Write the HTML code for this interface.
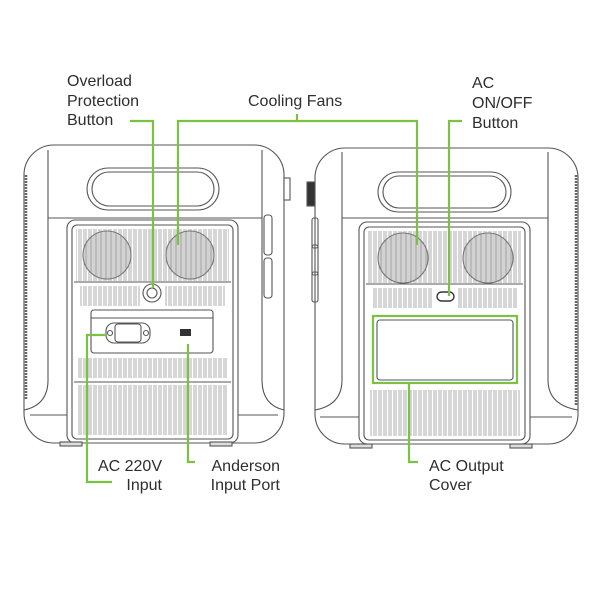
<!DOCTYPE html>
<html><head><meta charset="utf-8"><style>
html,body{margin:0;padding:0;background:#fff;}
svg{display:block;}
text{font-family:"Liberation Sans","DejaVu Sans",sans-serif;font-size:16px;fill:#2e2e2e;}
</style></head><body>
<svg width="600" height="600" viewBox="0 0 600 600" xmlns="http://www.w3.org/2000/svg">
<defs>
<pattern id="vent" width="5" height="200" patternUnits="userSpaceOnUse">
<rect x="1" y="-2" width="3" height="204" rx="1.5" fill="none" stroke="#777" stroke-width="0.6"/>
</pattern>
<pattern id="fan" width="5" height="100" patternUnits="userSpaceOnUse">
<rect width="5" height="100" fill="#d2d2d2"/><line x1="1" y1="0" x2="1" y2="100" stroke="#999" stroke-width="0.8"/>
</pattern>
</defs>
<g fill="none" stroke="#555" stroke-width="1.1">
<!-- LEFT UNIT -->
<rect x="24" y="145" width="260" height="298" rx="30" fill="#fff"/>
<line x1="26" y1="175" x2="26" y2="400" stroke="#666" stroke-width="2.5" stroke-dasharray="2 1"/>
<path d="M48 150 V380 Q48 405 24 410"/>
<path d="M262 150 V380 Q262 405 284 410"/>
<line x1="48" y1="218" x2="262" y2="218"/>
<line x1="30" y1="415" x2="278" y2="415"/>
<rect x="87" y="168" width="132" height="42" rx="21"/>
<rect x="92" y="172" width="122" height="34" rx="17"/>
<rect x="284" y="178" width="6" height="22" fill="#fff"/>
<rect x="264" y="215" width="8" height="40" rx="3"/>
<rect x="264" y="258" width="8" height="40" rx="3"/>
<rect x="67" y="220" width="171" height="223" rx="8" fill="#fff"/>
<rect x="72" y="225" width="161" height="214" rx="5"/>
<rect x="76" y="229" width="153" height="52" fill="url(#vent)" stroke="none"/>
<line x1="74" y1="282" x2="231" y2="282"/>
<circle cx="107" cy="255" r="24" fill="url(#fan)" stroke="#777"/>
<circle cx="190" cy="255" r="24" fill="url(#fan)" stroke="#777"/>
<rect x="80" y="286" width="60" height="20" fill="url(#vent)" stroke="none"/>
<rect x="165" y="286" width="60" height="20" fill="url(#vent)" stroke="none"/>
<circle cx="152" cy="293" r="9" fill="#fff"/>
<circle cx="152" cy="293" r="5"/>
<rect x="91" y="310" width="122" height="43" rx="3" fill="#fff"/>
<line x1="91" y1="318" x2="213" y2="318"/>
<rect x="106" y="323" width="44" height="20" rx="8" fill="#fff"/>
<rect x="115" y="324" width="26" height="18" rx="3"/>
<circle cx="110" cy="333" r="2.5"/><circle cx="146" cy="333" r="2.5"/>
<rect x="180" y="329" width="11" height="7" fill="#333" stroke="none"/>
<rect x="78" y="358" width="150" height="20" fill="url(#vent)" stroke="none"/>
<line x1="74" y1="382" x2="231" y2="382"/>
<rect x="78" y="385" width="150" height="50" fill="url(#vent)" stroke="none"/>
<rect x="60" y="442" width="22" height="4" fill="#ddd"/>
<rect x="210" y="442" width="22" height="4" fill="#ddd"/>

<!-- RIGHT UNIT -->
<rect x="315" y="148" width="263" height="296" rx="30" fill="#fff"/>
<line x1="576" y1="175" x2="576" y2="405" stroke="#666" stroke-width="2.5" stroke-dasharray="2 1"/>
<path d="M342 152 V380 Q342 405 315 410"/>
<path d="M548 152 V380 Q548 405 578 410"/>
<line x1="342" y1="218" x2="548" y2="218"/>
<line x1="320" y1="417" x2="572" y2="417"/>
<rect x="378" y="172" width="133" height="40" rx="20"/>
<rect x="383" y="176" width="123" height="32" rx="16"/>
<rect x="307" y="182" width="8" height="24" fill="#333"/>
<rect x="312" y="218" width="6" height="30" rx="2"/>
<rect x="312" y="245" width="6" height="30" rx="2"/>
<rect x="312" y="272" width="6" height="30" rx="2"/>
<rect x="359" y="222" width="171" height="222" rx="8" fill="#fff"/>
<rect x="364" y="227" width="161" height="213" rx="5"/>
<rect x="368" y="231" width="153" height="52" fill="url(#vent)" stroke="none"/>
<line x1="366" y1="284" x2="523" y2="284"/>
<circle cx="403" cy="258" r="25" fill="url(#fan)" stroke="#777"/>
<circle cx="488" cy="258" r="25" fill="url(#fan)" stroke="#777"/>
<rect x="372" y="288" width="60" height="20" fill="url(#vent)" stroke="none"/>
<rect x="458" y="288" width="60" height="20" fill="url(#vent)" stroke="none"/>
<rect x="437" y="292" width="17" height="9" rx="4.5" fill="#fff" stroke="#333" stroke-width="1.4"/>
<rect x="377" y="320" width="136" height="60" rx="3" fill="#fff"/>
<rect x="370" y="390" width="150" height="46" fill="url(#vent)" stroke="none"/>
<rect x="350" y="444" width="22" height="4" fill="#ddd"/>
<rect x="510" y="444" width="22" height="4" fill="#ddd"/>
</g>

<!-- GREEN CALLOUTS -->
<g fill="none" stroke="#7cc242" stroke-width="2.2">
<polyline points="130,121 153,121 153,288"/>
<polyline points="178,245 178,121 417,121 417,245"/>
<line x1="297" y1="121" x2="297" y2="114"/>
<polyline points="462,121 449,121 449,296"/>
<rect x="373" y="316" width="144" height="67"/>
<polyline points="409,383 409,462 418,462"/>
<polyline points="106,335 87,335 87,482 112,482"/>
<polyline points="188,344 188,462 195,462"/>
</g>

<text x="67" y="86">Overload</text>
<text x="67" y="106">Protection</text>
<text x="67" y="125">Button</text>
<text x="248" y="106">Cooling Fans</text>
<text x="472" y="88">AC</text>
<text x="472" y="108">ON/OFF</text>
<text x="472" y="128">Button</text>
<text x="162" y="471" text-anchor="end">AC 220V</text>
<text x="162" y="490" text-anchor="end">Input</text>
<text x="280" y="471" text-anchor="end">Anderson</text>
<text x="280" y="490" text-anchor="end">Input Port</text>
<text x="429" y="471">AC Output</text>
<text x="429" y="490">Cover</text>
</svg>
</body></html>
